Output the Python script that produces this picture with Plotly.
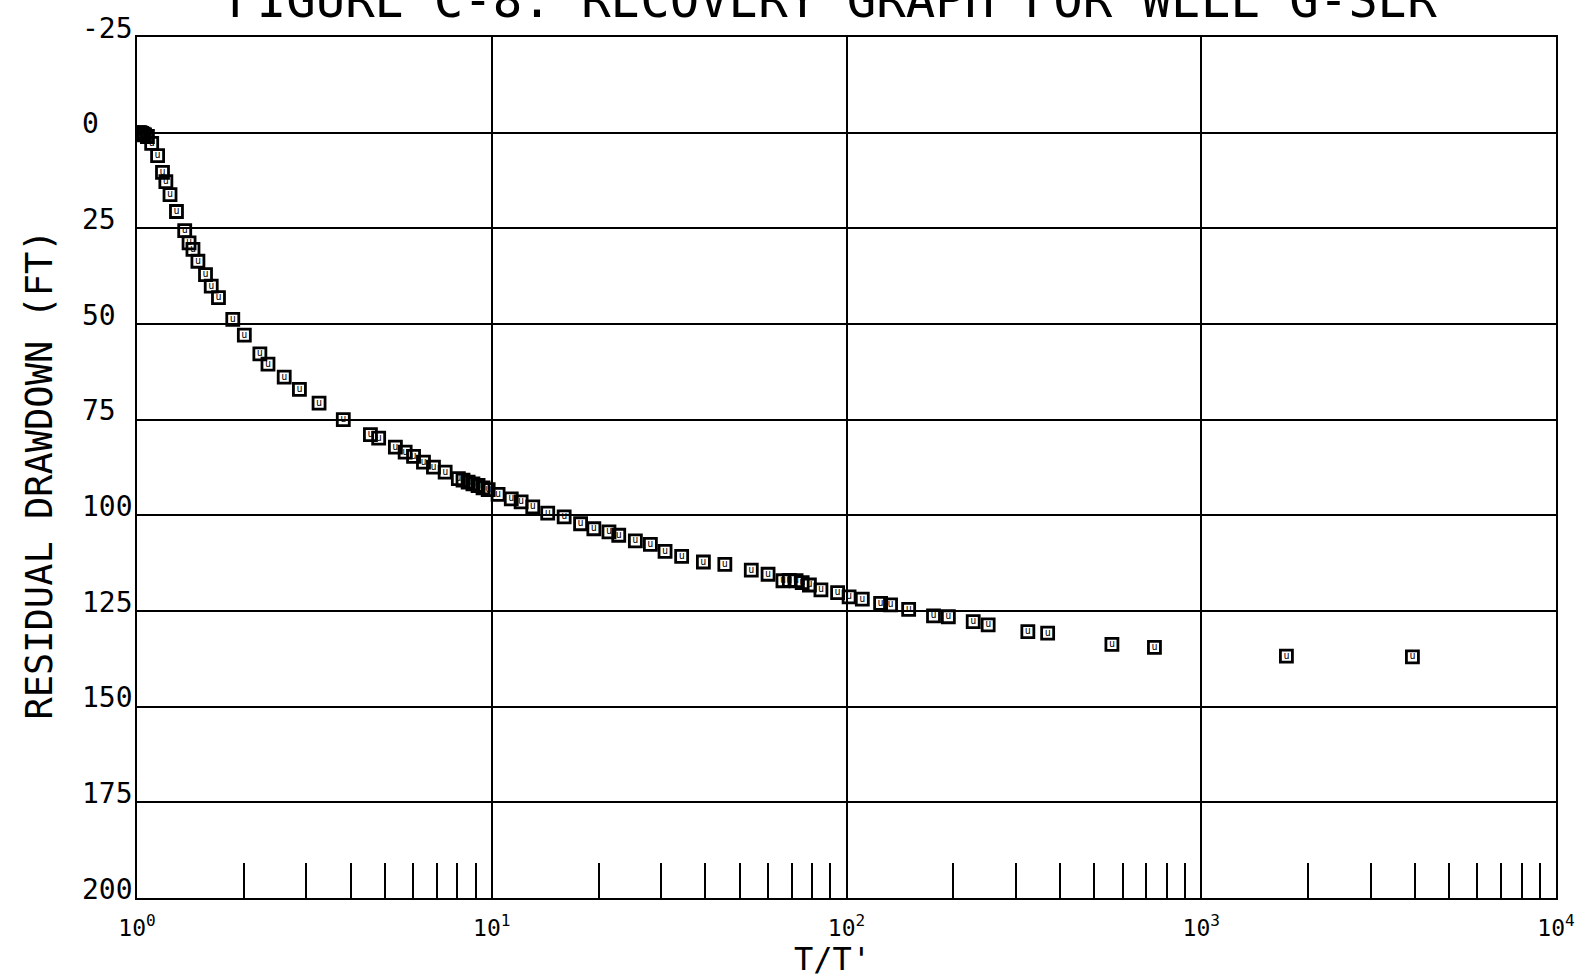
import plotly.graph_objects as go

# Data (T/T' vs residual drawdown, ft)
t_ratio = [1.01, 1.02, 1.03, 1.04, 1.05, 1.07, 1.10, 1.143, 1.18, 1.206, 1.239, 1.292, 1.363,
           1.402, 1.438, 1.485, 1.56, 1.619, 1.697, 1.862, 2.007, 2.22, 2.34, 2.60, 2.87, 3.26,
           3.815, 4.55, 4.80, 5.35, 5.70, 6.02, 6.42, 6.85, 7.39, 8.05, 8.3, 8.58, 8.85, 9.15,
           9.45, 9.77, 10.42, 11.35, 12.1, 13.05, 14.38, 16.0, 17.8, 19.4, 21.4, 22.8, 25.4,
           28.0, 30.8, 34.3, 39.5, 45.4, 53.9, 60.1, 66.2, 69.0, 72.1, 75.0, 78.6, 84.7, 94.4,
           101.7, 110.8, 124.8, 133.1, 149.7, 175.9, 193.7, 227.6, 250.8, 324.5, 369.0, 560.0,
           738.0, 1738.0, 3938.0]
drawdown = [0.0, 0.0, 0.2, 0.4, 0.6, 1.0, 2.8, 6.0, 10.4, 12.8, 16.2, 20.6, 25.6,
            28.8, 30.5, 33.6, 37.1, 40.1, 43.1, 48.8, 52.9, 57.8, 60.5, 63.9, 67.1, 70.7,
            75.0, 78.9, 79.8, 82.2, 83.5, 84.6, 86.1, 87.4, 88.7, 90.4, 90.8, 91.3, 91.8, 92.2,
            92.8, 93.3, 94.5, 95.7, 96.5, 97.8, 99.4, 100.4, 102.2, 103.5, 104.3, 105.2, 106.7,
            107.6, 109.4, 110.7, 112.2, 112.8, 114.3, 115.4, 117.1, 117.0, 117.1, 117.6, 118.2, 119.5, 120.2,
            121.3, 121.9, 123.0, 123.4, 124.6, 126.3, 126.5, 127.8, 128.6, 130.4, 130.8, 133.7,
            134.5, 136.8, 137.0]

y_ticks = [-25, 0, 25, 50, 75, 100, 125, 150, 175, 200]
x_decades = [1, 10, 100, 1000, 10000]
x_decade_labels = ["10<sup>0</sup>", "10<sup>1</sup>", "10<sup>2</sup>", "10<sup>3</sup>", "10<sup>4</sup>"]
minor_x = [m * d for d in x_decades[:-1] for m in range(2, 10)]

title_text = "FIGURE C-8. RECOVERY GRAPH FOR WELL G-SER"
y_title = "RESIDUAL DRAWDOWN (FT)"
x_title = "T/T'"

FONT = "DejaVu Sans Mono"

fig = go.Figure()
fig.add_trace(go.Scatter(
    x=t_ratio, y=drawdown, mode="markers+text",
    text=["u"] * len(t_ratio), textposition="middle center",
    textfont=dict(family=FONT, size=10, color="black"),
    marker=dict(symbol="square-open", size=12, color="black", line=dict(width=2.8, color="black")),
    showlegend=False, hoverinfo="x+y",
))

annotations = [
    dict(text=y_title, xref="paper", yref="paper", x=-0.0687, y=0.4913,
         xanchor="center", yanchor="middle", textangle=-90, showarrow=False,
         font=dict(family=FONT, size=37, color="black")),
    dict(text=x_title, xref="paper", yref="paper", x=0.49, y=-0.0708,
         xanchor="center", yanchor="middle", showarrow=False,
         font=dict(family=FONT, size=32, color="black")),
]
for v in y_ticks:
    annotations.append(dict(
        text=str(v), xref="paper", yref="y", x=0, y=v, xanchor="left", yanchor="middle",
        xshift=-57, yshift=9, showarrow=False,
        font=dict(family=FONT, size=28, color="black"),
    ))

fig.update_layout(
    width=1595, height=980,
    paper_bgcolor="white", plot_bgcolor="white",
    margin=dict(l=137, r=39, t=37, b=82, autoexpand=False),
    font=dict(family=FONT, color="black"),
    title=dict(text=title_text, x=0.5216, xanchor="center", xref="container",
               y=1.0, yanchor="middle", yref="container",
               font=dict(family=FONT, size=49, color="black")),
    xaxis=dict(
        type="log", range=[0, 4], automargin=False,
        tickvals=x_decades, ticktext=x_decade_labels,
        ticks="", showgrid=True, gridcolor="black", gridwidth=2.2,
        showline=True, linecolor="black", linewidth=2.2, mirror=True,
        tickfont=dict(family=FONT, size=23, color="black"),
        ticklabelstandoff=8,
        minor=dict(tickvals=minor_x, ticks="inside", ticklen=35, tickwidth=2,
                   tickcolor="black", showgrid=False),
        zeroline=False,
    ),
    yaxis=dict(
        range=[200, -25], tickvals=y_ticks, automargin=False,
        showticklabels=False,
        ticks="", showgrid=True, gridcolor="black", gridwidth=2.2,
        showline=True, linecolor="black", linewidth=2.2, mirror=True,
        zeroline=False,
    ),
    annotations=annotations,
)

fig.write_html(
    "out.html",
    config={"displayModeBar": False},
    post_script="document.body.style.margin='0';document.body.style.overflow='hidden';",
)
